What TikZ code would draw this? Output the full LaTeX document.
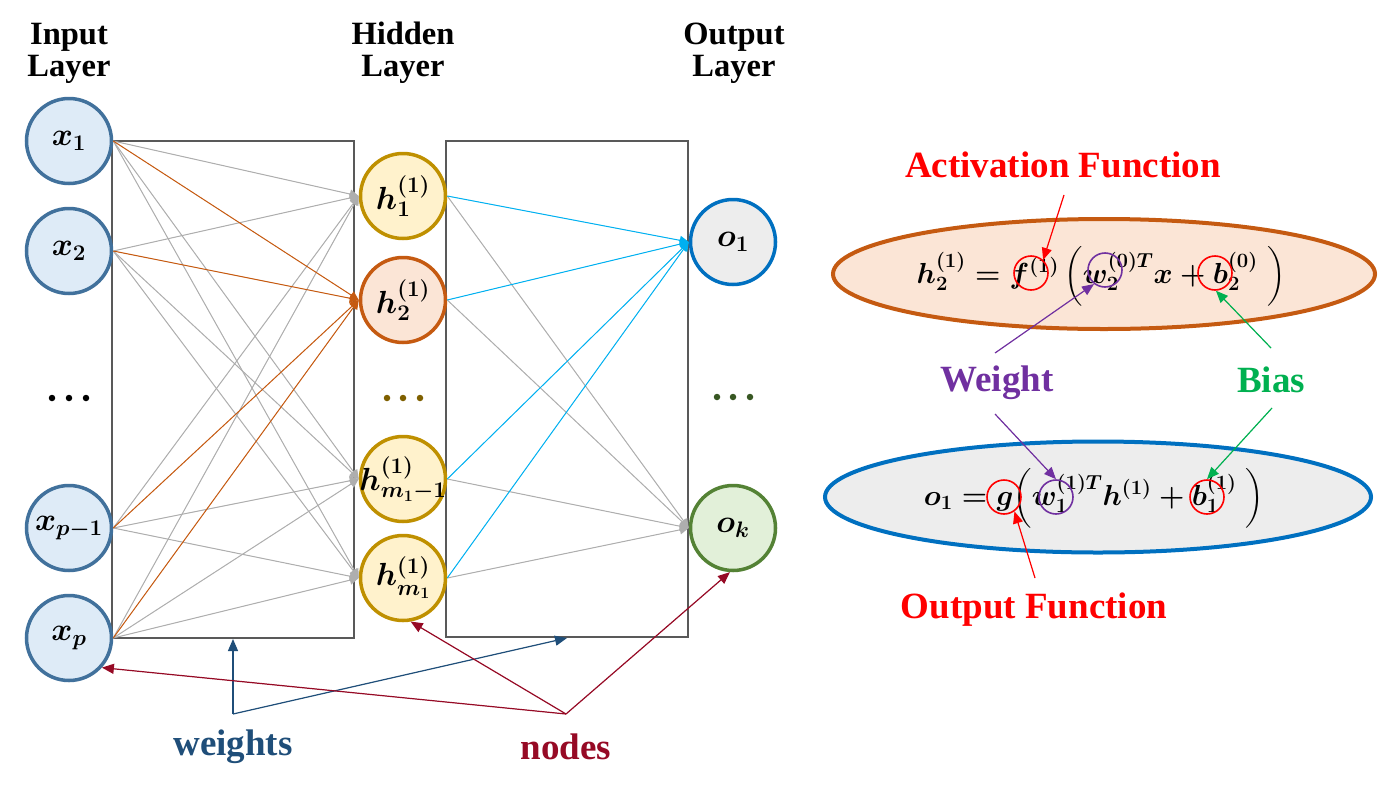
\RequirePackage{fix-cm}
\documentclass[tikz,border=0pt]{standalone}
\usepackage{amsmath}
\usepackage{fontspec}
\setmainfont{Liberation Serif}
\usetikzlibrary{arrows.meta,shapes.geometric}
\definecolor{inD}{HTML}{41719C}\definecolor{inF}{HTML}{DEEBF7}
\definecolor{hidD}{HTML}{BF9000}\definecolor{hidF}{HTML}{FFF2CC}
\definecolor{orD}{HTML}{C55A11}\definecolor{orF}{HTML}{FBE5D6}
\definecolor{o1D}{HTML}{0070C0}\definecolor{o1F}{HTML}{EDEDED}
\definecolor{okD}{HTML}{548235}\definecolor{okF}{HTML}{E2F0D9}
\definecolor{boxg}{HTML}{595959}
\definecolor{lgray}{HTML}{AEAEAE}
\definecolor{cyanl}{HTML}{00B0F0}
\definecolor{wblue}{HTML}{1F4E79}
\definecolor{nred}{HTML}{960A25}
\definecolor{redA}{HTML}{FF0000}
\definecolor{purp}{HTML}{7030A0}
\definecolor{grn}{HTML}{00B050}
\definecolor{hdots}{HTML}{7F6000}
\definecolor{odots}{HTML}{385723}
\begin{document}
\begin{tikzpicture}[x=1pt,y=-1pt,
  neuron/.style={circle,minimum size=85pt,line width=3.5pt,inner sep=0pt,
    font=\fontsize{32}{32}\selectfont\boldmath},
  innode/.style={neuron,draw=inD,fill=inF},
  hidnode/.style={neuron,draw=hidD,fill=hidF},
  h2node/.style={neuron,draw=orD,fill=orF},
  o1node/.style={neuron,draw=o1D,fill=o1F},
  oknode/.style={neuron,draw=okD,fill=okF},
  layerbox/.style={draw=boxg,line width=2pt,inner sep=0pt},
  titletext/.style={font=\fontsize{32.5}{32}\selectfont\bfseries,align=center,inner sep=0pt},
  bigtext/.style={font=\fontsize{37}{37}\selectfont\bfseries,inner sep=0pt},
  conn/.style={line width=1pt,-{Triangle[length=9pt,width=9pt]}},
  grayconn/.style={conn,draw=lgray,fill=lgray},
  orconn/.style={conn,draw=orD,fill=orD},
  cyconn/.style={conn,draw=cyanl,fill=cyanl},
  annarrow/.style={line width=1.2pt,-{Triangle[length=12pt,width=10pt]}},
  ring/.style={circle,minimum size=34pt,line width=1.6pt,inner sep=0pt},
  eqtext/.style={font=\fontsize{29}{29}\selectfont\boldmath,inner sep=0pt},
  dotmark/.style={circle,inner sep=0pt,minimum size=6.5pt}
]
\useasboundingbox (0,0) rectangle (1380,790);

% titles
\node[titletext] (tin) at (69,53) {Input\\Layer};
\node[titletext] (thid) at (403,53) {Hidden\\Layer};
\node[titletext] (tout) at (734,53) {Output\\Layer};

% boxes
\node[layerbox,minimum width=242pt,minimum height=497pt] (lbox) at (233,389.5) {};
\node[layerbox,minimum width=242pt,minimum height=496pt] (rbox) at (567,389) {};

% neurons
\node[innode] (x1) at (69,141) {$x_1$};
\node[innode] (x2) at (69,251) {$x_2$};
\node[innode] (xq) at (69,528) {\makebox[0pt]{$x_{p-1}$}};
\node[innode] (xp) at (69,638) {$x_p$};
\node[hidnode] (h1) at (403,196) {$h_1^{(1)}$};
\node[h2node] (h2) at (403,300) {$h_2^{(1)}$};
\node[hidnode] (hq) at (403,479) {\makebox[0pt]{$h_{m_1-1}^{(1)}$}};
\node[hidnode] (hm) at (403,578) {$h_{m_1}^{(1)}$};
\node[o1node] (o1) at (733,242) {$o_1$};
\node[oknode] (ok) at (733,528) {$o_k$};

% dots
\foreach \xx/\nm in {52/a,69/b,86/c}{\node[dotmark,fill=black] (din\nm) at (\xx,398) {};}
\foreach \xx/\nm in {387/a,403/b,420/c}{\node[dotmark,fill=hdots] (dh\nm) at (\xx,398) {};}
\foreach \xx/\nm in {717/a,733/b,750/c}{\node[dotmark,fill=odots] (do\nm) at (\xx,397) {};}

% connections input -> hidden
\foreach \s in {x1,x2,xq,xp}{
  \foreach \t in {h1,hq,hm}{\draw[grayconn] (\s.east) -- (\t.west);}
}
\foreach \s in {x1,x2,xq,xp}{\draw[orconn] (\s.east) -- (h2.west);}
% hidden -> output
\foreach \s in {h1,h2,hq,hm}{\draw[grayconn] (\s.east) -- (ok.west);}
\foreach \s in {h1,h2,hq,hm}{\draw[cyconn] (\s.east) -- (o1.west);}

% bottom annotations
\node[bigtext,text=wblue] (wlab) at (233,747) {weights};
\node[bigtext,text=nred] (nlab) at (566,747) {nodes};
\coordinate (wj) at (233,714);
\coordinate (nj) at (566,714);
\draw[annarrow,draw=wblue,fill=wblue] (wj) -- (lbox.south);
\draw[annarrow,draw=wblue,fill=wblue] (wj) -- (rbox.south);
\draw[annarrow,draw=nred,fill=nred] (nj) -- (xp.-42);
\draw[annarrow,draw=nred,fill=nred] (nj) -- (hm.-80);
\draw[annarrow,draw=nred,fill=nred] (nj) -- (ok.-94);

% right side equations
\node[ellipse,draw=orD,fill=orF,line width=4pt,minimum width=542pt,minimum height=110pt] (e1) at (1104,274) {};
\node[ellipse,draw=o1D,fill=o1F,line width=4pt,minimum width=546pt,minimum height=111pt] (e2) at (1098,497) {};
\node[eqtext] (eq1) at (1101,276) {$h_2^{(1)} = f^{(1)}\,\Big(w_2^{(0)T}x + b_2^{(0)}\;\Big)$};
\node[eqtext] (eq2) at (1094,498) {$o_1 = g\Big(w_1^{(1)T}h^{(1)} + b_1^{(1)}\;\Big)$};

\node[ring,draw=redA] (cf) at (1031,273) {};
\node[ring,draw=purp] (cw1) at (1105,270) {};
\node[ring,draw=redA] (cb1) at (1215,273) {};
\node[ring,draw=redA] (cg) at (1004,497) {};
\node[ring,draw=purp] (cw2) at (1056,497) {};
\node[ring,draw=redA] (cb2) at (1207,497) {};

\node[bigtext,text=redA] (actl) at (1063,165) {Activation Function};
\node[bigtext,text=purp] (wtl) at (997,383) {Weight};
\node[bigtext,text=grn] (bsl) at (1271,380) {Bias};
\node[bigtext,text=redA] (outl) at (1034,610) {Output Function};

\coordinate (aA) at (1064,195);
\coordinate (wA) at (995,353);
\coordinate (wB) at (995,414);
\coordinate (bA) at (1271,348);
\coordinate (bB) at (1272,408);
\coordinate (oA) at (1035,578);
\draw[annarrow,draw=redA,fill=redA] (aA) -- (cf.47);
\draw[annarrow,draw=purp,fill=purp] (wA) -- (cw1.232);
\draw[annarrow,draw=grn,fill=grn] (bA) -- (cb1.-87);
\draw[annarrow,draw=purp,fill=purp] (wB) -- (cw2.north);
\draw[annarrow,draw=grn,fill=grn] (bB) -- (cb2.north);
\draw[annarrow,draw=redA,fill=redA] (oA) -- (cg.-54);
\end{tikzpicture}
\end{document}
